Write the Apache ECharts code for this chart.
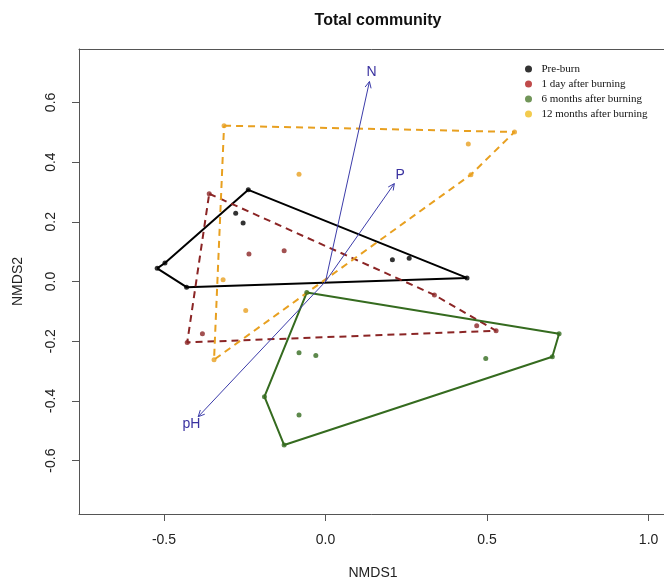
<!DOCTYPE html>
<html>
<head>
<meta charset="utf-8">
<script src="https://cdn.jsdelivr.net/npm/echarts@6/dist/echarts.min.js"></script>
<style>
  html, body { margin: 0; padding: 0; background: #fff; }
  #chart { width: 664px; height: 585px; }
</style>
</head>
<body>
<div id="chart"></div>
<script>
// NMDS scores
const groupNames = ['Pre-burn', '1 day after burning', '6 months after burning', '12 months after burning'];

const preX = [-0.521, -0.497, -0.430, -0.239, 0.438, -0.278, -0.255, 0.207, 0.259];
const preY = [0.044, 0.062, -0.019, 0.307, 0.012, 0.229, 0.196, 0.073, 0.078];
const preHull = [0, 1, 3, 4, 2];

const day1X = [-0.360, -0.237, -0.128, -0.381, -0.428, 0.528, 0.468, 0.337];
const day1Y = [0.294, 0.092, 0.103, -0.175, -0.204, -0.165, -0.148, -0.045];
const day1Hull = [0, 7, 5, 4];

const m6X = [-0.058, 0.723, 0.702, -0.128, -0.189, -0.082, -0.030, 0.496, -0.082];
const m6Y = [-0.037, -0.175, -0.252, -0.548, -0.386, -0.239, -0.248, -0.258, -0.447];
const m6Hull = [0, 1, 2, 3, 4];

const m12X = [-0.314, 0.585, 0.442, 0.450, -0.082, -0.317, -0.247, -0.345];
const m12Y = [0.522, 0.501, 0.461, 0.358, 0.359, 0.006, -0.097, -0.262];
const m12Hull = [0, 1, 3, 7];

// envfit vectors
const vectorNames = ['N', 'P', 'pH'];
const vectorX = [0.136, 0.213, -0.394];
const vectorY = [0.670, 0.328, -0.453];

const xTicks = [-0.5, 0.0, 0.5, 1.0];
const yTicks = [-0.6, -0.4, -0.2, 0.0, 0.2, 0.4, 0.6];

const groups = [
  { x: preX, y: preY, hull: preHull, color: '#000000', legend: '#000000', dashed: false },
  { x: day1X, y: day1Y, hull: day1Hull, color: '#8b2525', legend: '#b01e1e', dashed: true },
  { x: m6X, y: m6Y, hull: m6Hull, color: '#356b1f', legend: '#4e7a2f', dashed: false },
  { x: m12X, y: m12Y, hull: m12Hull, color: '#e8a020', legend: '#f0be22', dashed: true }
];

const fmt = v => v.toFixed(1);
const axisFont = { fontFamily: 'Liberation Sans', fontSize: 14, color: '#222' };

const series = [];
groups.forEach((g, i) => {
  const ring = g.hull.concat([g.hull[0]]).map(k => [g.x[k], g.y[k]]);
  series.push({
    type: 'line',
    data: ring,
    symbol: 'none',
    silent: true,
    z: 2,
    lineStyle: { color: g.color, width: 2, type: g.dashed ? [7, 5] : 'solid' }
  });
  series.push({
    name: groupNames[i],
    type: 'scatter',
    data: g.x.map((v, k) => [v, g.y[k]]),
    symbolSize: 5,
    z: 3,
    itemStyle: { color: g.color }
  });
});

series.push({
  type: 'custom',
  silent: true,
  z: 4,
  data: vectorX.map((v, i) => [v, vectorY[i], vectorNames[i]]),
  renderItem: function (params, api) {
    const o = api.coord([0, 0]);
    const t = api.coord([api.value(0), api.value(1)]);
    const a = Math.atan2(t[1] - o[1], t[0] - o[0]);
    const h = 7, s = 0.45;
    const p1 = [t[0] - h * Math.cos(a - s), t[1] - h * Math.sin(a - s)];
    const p2 = [t[0] - h * Math.cos(a + s), t[1] - h * Math.sin(a + s)];
    const d = 10;
    return {
      type: 'group',
      children: [
        { type: 'line', shape: { x1: o[0], y1: o[1], x2: t[0], y2: t[1] },
          style: { stroke: '#3c3caa', lineWidth: 1 } },
        { type: 'polyline', shape: { points: [p1, t, p2] },
          style: { stroke: '#3c3caa', lineWidth: 1, fill: null } },
        { type: 'text', x: t[0] + d * Math.cos(a), y: t[1] + d * Math.sin(a),
          style: { text: api.value(2), fill: '#3a32a0', fontFamily: 'Liberation Sans',
                   fontSize: 14, align: 'center', verticalAlign: 'middle' } }
      ]
    };
  }
});

const chart = echarts.init(document.getElementById('chart'));
chart.setOption({
  animation: false,
  backgroundColor: '#fff',
  title: {
    text: 'Total community',
    left: 373, top: 8,
    textAlign: 'center',
    textStyle: { fontFamily: 'Liberation Sans', fontWeight: 'bold', fontSize: 16, color: '#111' }
  },
  legend: {
    orient: 'vertical',
    left: 520, top: 58,
    itemWidth: 16, itemHeight: 7, itemGap: 3,
    icon: 'circle',
    selectedMode: false,
    textStyle: { fontFamily: 'Liberation Serif', fontSize: 11, lineHeight: 12, color: '#111' },
    data: groups.map((g, i) => ({ name: groupNames[i], itemStyle: { color: g.legend } }))
  },
  grid: { left: 79, top: 49, right: -3, bottom: 71, outerBoundsMode: 'none' },
  xAxis: [{
    type: 'value', min: -0.763, max: 1.057,
    name: 'NMDS1', nameLocation: 'middle', nameGap: 52,
    nameTextStyle: axisFont,
    axisLine: { show: true, onZero: false, lineStyle: { color: '#555', width: 1 } },
    axisTick: { show: true, length: 7, customValues: xTicks, lineStyle: { color: '#555' } },
    axisLabel: { customValues: xTicks, margin: 19, formatter: fmt, ...axisFont },
    splitLine: { show: false }
  }, {
    type: 'value', min: -0.763, max: 1.057, position: 'top',
    axisLine: { show: true, onZero: false, lineStyle: { color: '#555', width: 1 } },
    axisTick: { show: false }, axisLabel: { show: false }, splitLine: { show: false }
  }],
  yAxis: {
    type: 'value', min: -0.779, max: 0.779,
    name: 'NMDS2', nameLocation: 'middle', nameGap: 54,
    nameTextStyle: axisFont,
    axisLine: { show: true, onZero: false, lineStyle: { color: '#555', width: 1 } },
    axisTick: { show: true, length: 7, customValues: yTicks, lineStyle: { color: '#555' } },
    axisLabel: { customValues: yTicks, margin: 21, rotate: 90, formatter: fmt, ...axisFont },
    splitLine: { show: false }
  },
  series: series
});
</script>
</body>
</html>
